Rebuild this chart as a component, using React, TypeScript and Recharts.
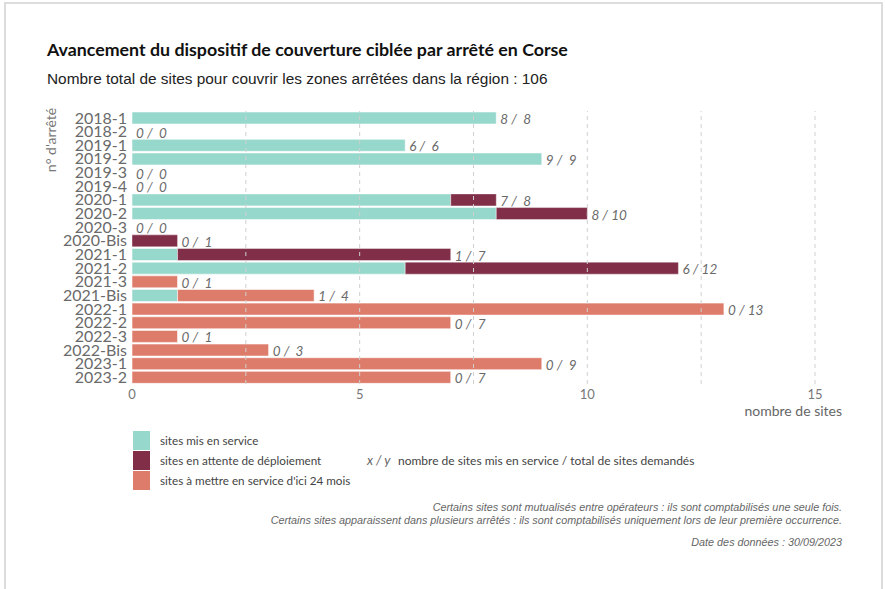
import React from 'react';
import { BarChart, Bar, XAxis, YAxis, ReferenceLine, LabelList } from 'recharts';

const categories = ['2018-1','2018-2','2019-1','2019-2','2019-3','2019-4','2020-1','2020-2','2020-3','2020-Bis','2021-1','2021-2','2021-3','2021-Bis','2022-1','2022-2','2022-3','2022-Bis','2023-1','2023-2'];
const serviceValues = [8,0,6,9,0,0,7,8,0,0,1,6,0,1,0,0,0,0,0,0];
const attenteValues = [0,0,0,0,0,0,1,2,0,1,6,6,0,0,0,0,0,0,0,0];
const mettreValues  = [0,0,0,0,0,0,0,0,0,0,0,0,1,3,13,7,1,3,9,7];
const xTicks = [0,5,10,15];
const gridValues = [2.5,5,7.5,10,12.5,15];

const seriesNames = ['sites mis en service','sites en attente de déploiement',"sites à mettre en service d'ici 24 mois"];
const COLORS = ['#96D8CB','#812F48','#DE7C6B'];

// tiny invisible cap at the end of each stack, used only to anchor the "x / y" label
const LABEL_ANCHOR = 0.001;

const data = categories.map((c, i) => {
  const total = serviceValues[i] + attenteValues[i] + mettreValues[i];
  return {
    cat: c,
    service: serviceValues[i],
    attente: attenteValues[i],
    mettre: mettreValues[i],
    anchor: LABEL_ANCHOR,
    label: `${serviceValues[i]} / ${String(total).padStart(2, ' ')}`,
  };
});

const GEO = 'Lato, "Open Sans", sans-serif';
const ARIAL = '"Liberation Sans", Arial, sans-serif';

const renderLabel = (props: any) => {
  const { x, y, width, height, value } = props;
  return (
    <text x={Number(x) + Number(width) + 4} y={Number(y) + Number(height) / 2 + 1} dominantBaseline="central"
      fontFamily={GEO} fontStyle="italic" fontSize={13.5} fill="#6a6a6a" style={{ whiteSpace: 'pre' }}>{value}</text>
  );
};

export default function App() {
  return (
    <div style={{ position: 'absolute', left: 0, top: 0, width: 885, height: 589, background: '#fff', overflow: 'hidden' }}>
      <div style={{ position: 'absolute', left: 4, top: 2, width: 875, height: 600, border: '2px solid #dcdcdc', borderBottom: 'none' }} />
      <div style={{ position: 'absolute', left: 47, top: 38, fontFamily: GEO, fontWeight: 700, fontSize: 17.8, color: '#111', whiteSpace: 'nowrap' }}>
        Avancement du dispositif de couverture ciblée par arrêté en Corse
      </div>
      <div style={{ position: 'absolute', left: 47, top: 70, fontFamily: ARIAL, fontSize: 15.4, color: '#222', whiteSpace: 'nowrap' }}>
        Nombre total de sites pour couvrir les zones arrêtées dans la région : 106
      </div>
      <div style={{ position: 'absolute', left: 0, top: 0 }}>
        <BarChart width={885} height={589} data={data} layout="vertical"
          margin={{ top: 111, right: 70, bottom: 175, left: 0 }} barCategoryGap={1}>
          {gridValues.map(v => (
            <ReferenceLine key={v} x={v} stroke="#cfcfcf" strokeDasharray="4 4" />
          ))}
          <XAxis type="number" domain={[0, 15]} ticks={xTicks} axisLine={false} tickLine={false}
            tickSize={0} tickMargin={6} tick={{ fontFamily: GEO, fontSize: 13, fill: '#777' }} height={30} allowDataOverflow />
          <YAxis type="category" dataKey="cat" width={132} axisLine={false} tickLine={false}
            tickSize={0} tickMargin={5} interval={0}
            tick={{ fontFamily: GEO, fontSize: 16, fill: '#6a6a6a' }} />
          <Bar dataKey="service" stackId="a" fill={COLORS[0]} stroke="rgba(255,255,255,0.55)" strokeWidth={1} isAnimationActive={false} />
          <Bar dataKey="attente" stackId="a" fill={COLORS[1]} stroke="rgba(255,255,255,0.4)" strokeWidth={1} isAnimationActive={false} />
          <Bar dataKey="mettre" stackId="a" fill={COLORS[2]} stroke="rgba(255,255,255,0.55)" strokeWidth={1} isAnimationActive={false} />
          <Bar dataKey="anchor" stackId="a" fill="transparent" stroke="none" isAnimationActive={false} legendType="none">
            <LabelList dataKey="label" content={renderLabel} />
          </Bar>
        </BarChart>
      </div>
      <div style={{ position: 'absolute', left: 50, top: 140, transform: 'translate(-50%, -50%) rotate(-90deg)', fontFamily: GEO, fontSize: 14, color: '#777', whiteSpace: 'nowrap' }}>
        n° d'arrêté
      </div>
      <div style={{ position: 'absolute', right: 43, top: 402, fontFamily: GEO, fontSize: 14, color: '#666', whiteSpace: 'nowrap' }}>
        nombre de sites
      </div>
      {seriesNames.map((n, i) => (
        <React.Fragment key={n}>
          <div style={{ position: 'absolute', left: 133, top: 431 + i * 20, width: 17, height: 19, background: COLORS[i] }} />
          <div style={{ position: 'absolute', left: 160, top: 433 + i * 20, fontFamily: GEO, fontSize: 11.7, color: '#444', whiteSpace: 'nowrap' }}>{n}</div>
        </React.Fragment>
      ))}
      <div style={{ position: 'absolute', left: 367, top: 452, fontFamily: GEO, fontSize: 13, fontStyle: 'italic', color: '#666', whiteSpace: 'nowrap' }}>x / y</div>
      <div style={{ position: 'absolute', left: 398, top: 453, fontFamily: GEO, fontSize: 12, color: '#444', whiteSpace: 'nowrap' }}>nombre de sites mis en service / total de sites demandés</div>
      <div style={{ position: 'absolute', right: 43, top: 501, textAlign: 'right', fontFamily: ARIAL, fontStyle: 'italic', fontSize: 10.8, lineHeight: '13px', color: '#666', whiteSpace: 'nowrap' }}>
        Certains sites sont mutualisés entre opérateurs : ils sont comptabilisés une seule fois.<br />
        Certains sites apparaissent dans plusieurs arrêtés : ils sont comptabilisés uniquement lors de leur première occurrence.
      </div>
      <div style={{ position: 'absolute', right: 43, top: 536, fontFamily: ARIAL, fontStyle: 'italic', fontSize: 10.8, color: '#666', whiteSpace: 'nowrap' }}>
        Date des données : 30/09/2023
      </div>
    </div>
  );
}
